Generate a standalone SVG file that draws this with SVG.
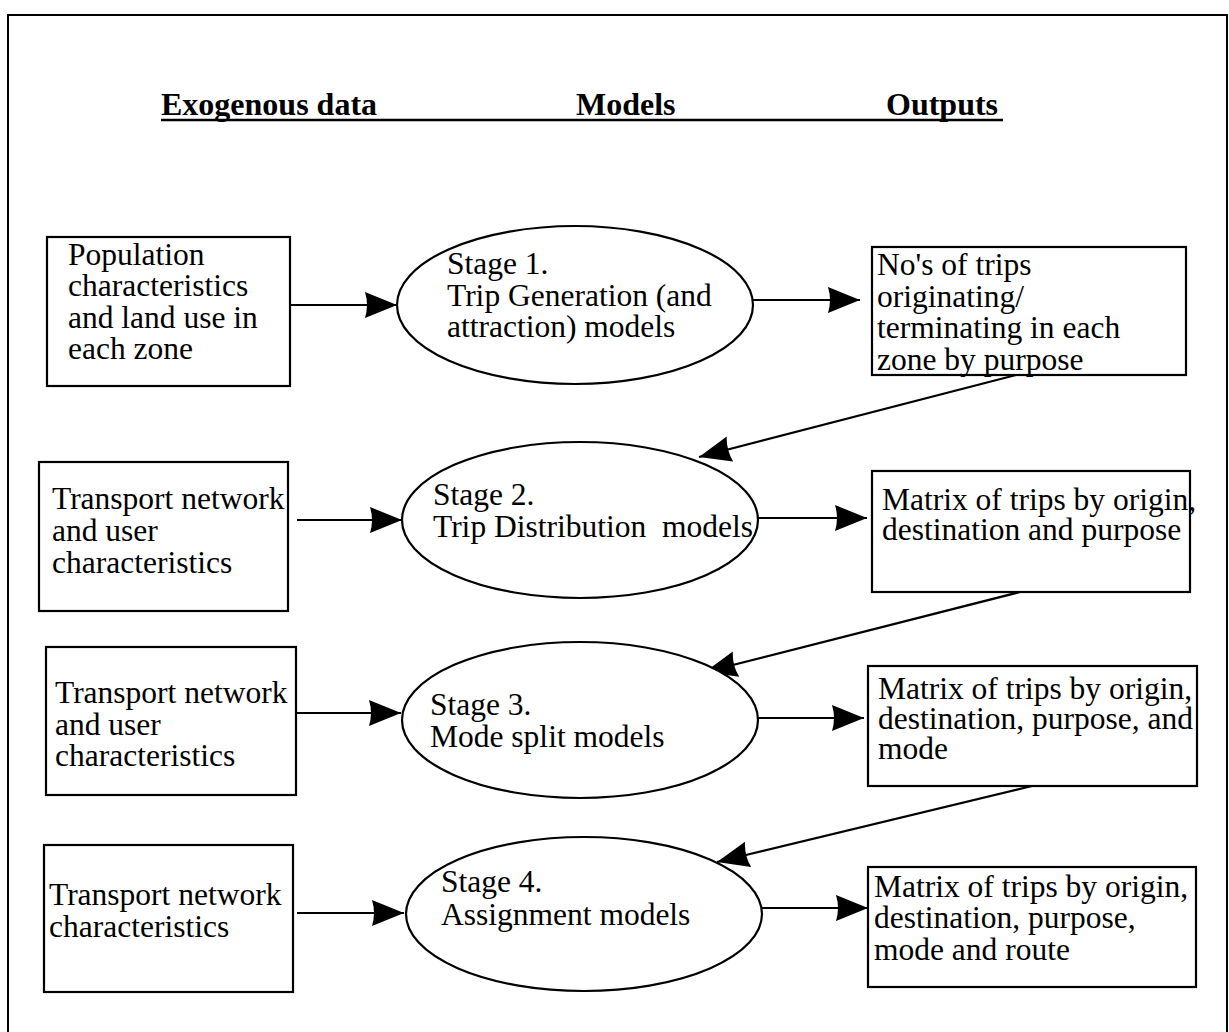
<svg xmlns="http://www.w3.org/2000/svg" width="1229" height="1032" viewBox="0 0 1229 1032">
<defs>
<style>
.frame{fill:none;stroke:#000;stroke-width:2}
.box{fill:#fff;stroke:#000;stroke-width:2.2}
.ell{fill:#fff;stroke:#000;stroke-width:2.2}
.t{font-size:31.5px;fill:#000;white-space:pre}
.h{font-size:32px;font-weight:bold;fill:#000}
.c{fill:none;stroke:#000;stroke-width:2.2}
</style>
<marker id="ah" markerUnits="userSpaceOnUse" markerWidth="34" markerHeight="28" refX="32" refY="13" orient="auto" viewBox="0 0 34 28">
<path d="M0,0 L32,13 L0,26 Q4,13 0,0 z" fill="#000"/>
</marker>
</defs>
<rect width="1229" height="1032" fill="#fff"/>
<rect class="frame" x="8" y="15" width="1219" height="1030"/>

<g id="headers" font-family="'Liberation Serif', 'Times New Roman', Times, serif">
<text class="h" x="161" y="115">Exogenous data</text>
<text class="h" x="576" y="115">Models</text>
<text class="h" x="886" y="115">Outputs</text>
<line x1="161" y1="120" x2="1003" y2="120" stroke="#000" stroke-width="2.5"/>
</g>

<g id="connectors">
<line class="c" x1="290" y1="305" x2="397" y2="305" marker-end="url(#ah)"/>
<line class="c" x1="752" y1="300" x2="860" y2="300" marker-end="url(#ah)"/>
<line class="c" x1="1016" y1="375" x2="699" y2="457" marker-end="url(#ah)"/>
<line class="c" x1="297" y1="520" x2="402" y2="520" marker-end="url(#ah)"/>
<line class="c" x1="757" y1="518" x2="867" y2="518" marker-end="url(#ah)"/>
<line class="c" x1="1020" y1="592" x2="705" y2="672" marker-end="url(#ah)"/>
<line class="c" x1="296" y1="713" x2="401" y2="713" marker-end="url(#ah)"/>
<line class="c" x1="757" y1="718" x2="864" y2="718" marker-end="url(#ah)"/>
<line class="c" x1="1032" y1="786" x2="717" y2="862" marker-end="url(#ah)"/>
<line class="c" x1="297" y1="913" x2="404" y2="913" marker-end="url(#ah)"/>
<line class="c" x1="762" y1="908" x2="868" y2="908" marker-end="url(#ah)"/>
</g>

<g id="nodes" font-family="'Liberation Serif', 'Times New Roman', Times, serif">
<g id="in1">
<rect class="box" x="47" y="237" width="243" height="149"/>
<text class="t"><tspan x="68" y="265">Population</tspan><tspan x="68" y="296">characteristics</tspan><tspan x="68" y="328">and land use in</tspan><tspan x="68" y="359">each zone</tspan></text>
</g>
<g id="stage1">
<ellipse class="ell" cx="575" cy="305" rx="178" ry="79"/>
<text class="t"><tspan x="447" y="274">Stage 1.</tspan><tspan x="447" y="306">Trip Generation (and</tspan><tspan x="447" y="337">attraction) models</tspan></text>
</g>
<g id="out1">
<rect class="box" x="872" y="247" width="314" height="128"/>
<text class="t"><tspan x="877" y="275">No's of trips</tspan><tspan x="877" y="307">originating/</tspan><tspan x="877" y="338">terminating in each</tspan><tspan x="877" y="370">zone by purpose</tspan></text>
</g>

<g id="in2">
<rect class="box" x="39" y="462" width="249" height="149"/>
<text class="t"><tspan x="52" y="509">Transport network</tspan><tspan x="52" y="541">and user</tspan><tspan x="52" y="573">characteristics</tspan></text>
</g>
<g id="stage2">
<ellipse class="ell" cx="580" cy="520" rx="178" ry="78"/>
<text class="t"><tspan x="433" y="505">Stage 2.</tspan><tspan x="433" y="537">Trip Distribution  models</tspan></text>
</g>
<g id="out2">
<rect class="box" x="872" y="471" width="318" height="121"/>
<text class="t"><tspan x="882" y="510">Matrix of trips by origin,</tspan><tspan x="882" y="540">destination and purpose</tspan></text>
</g>

<g id="in3">
<rect class="box" x="46" y="647" width="250" height="148"/>
<text class="t"><tspan x="55" y="703">Transport network</tspan><tspan x="55" y="735">and user</tspan><tspan x="55" y="766">characteristics</tspan></text>
</g>
<g id="stage3">
<ellipse class="ell" cx="580" cy="720" rx="178" ry="78"/>
<text class="t"><tspan x="430" y="715">Stage 3.</tspan><tspan x="430" y="747">Mode split models</tspan></text>
</g>
<g id="out3">
<rect class="box" x="868" y="666" width="329" height="120"/>
<text class="t"><tspan x="878" y="699">Matrix of trips by origin,</tspan><tspan x="878" y="729">destination, purpose, and</tspan><tspan x="878" y="759">mode</tspan></text>
</g>

<g id="in4">
<rect class="box" x="44" y="845" width="249" height="147"/>
<text class="t"><tspan x="49" y="905">Transport network</tspan><tspan x="49" y="937">characteristics</tspan></text>
</g>
<g id="stage4">
<ellipse class="ell" cx="584" cy="914" rx="178" ry="77"/>
<text class="t"><tspan x="441" y="892">Stage 4.</tspan><tspan x="441" y="925">Assignment models</tspan></text>
</g>
<g id="out4">
<rect class="box" x="868" y="867" width="328" height="120"/>
<text class="t"><tspan x="874" y="897">Matrix of trips by origin,</tspan><tspan x="874" y="928">destination, purpose,</tspan><tspan x="874" y="960">mode and route</tspan></text>
</g>
</g>
</svg>
